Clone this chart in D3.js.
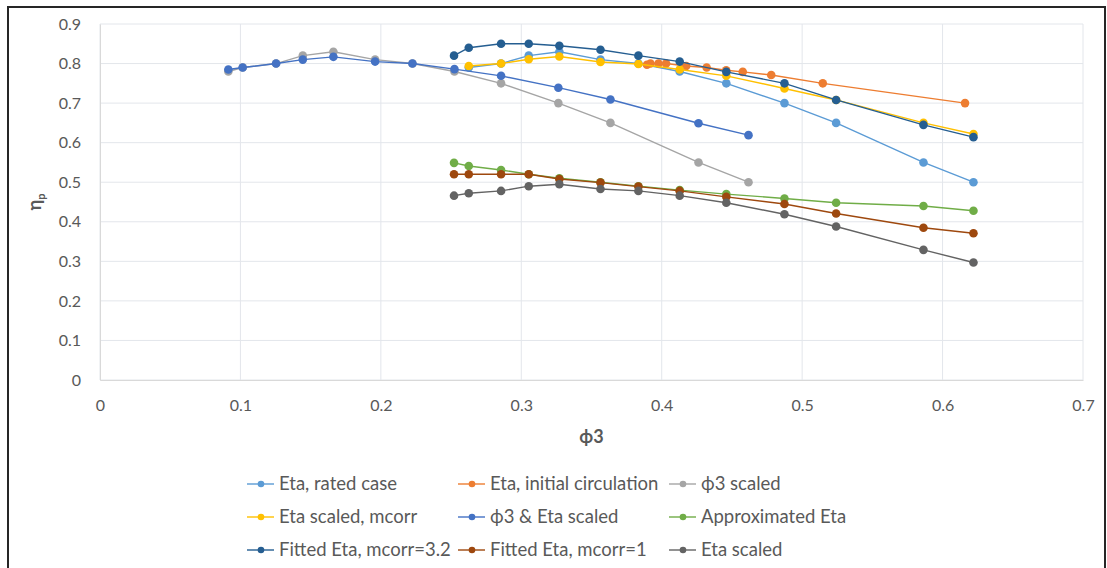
<!DOCTYPE html>
<html>
<head>
<meta charset="utf-8">
<script src="https://cdn.jsdelivr.net/npm/d3@7"></script>
<style>
  body { margin: 0; background: #fff; }
  svg { display: block; font-family: Lato, "Open Sans", sans-serif; }
</style>
</head>
<body>
<svg id="chart" width="1107" height="568"></svg>
<script>
// Efficiency ηp against flow coefficient ϕ3 for several scaling approaches
const xTicks = [0, 0.1, 0.2, 0.3, 0.4, 0.5, 0.6, 0.7];
const yTicks = [0, 0.1, 0.2, 0.3, 0.4, 0.5, 0.6, 0.7, 0.8, 0.9];

const phiRated = [0.2626, 0.2856, 0.3053, 0.3271, 0.3564, 0.3834, 0.4128, 0.446, 0.4874, 0.5242, 0.5864, 0.622];
const etaRated = [0.79, 0.80, 0.82, 0.83, 0.81, 0.80, 0.78, 0.75, 0.70, 0.65, 0.55, 0.50];

const phiInitial = [0.3895, 0.392, 0.3977, 0.4031, 0.4174, 0.432, 0.4459, 0.4577, 0.478, 0.5147, 0.616];
const etaInitial = [0.797, 0.80, 0.80, 0.80, 0.794, 0.79, 0.783, 0.779, 0.771, 0.75, 0.70];

const phiScaledLow = [0.0914, 0.1016, 0.1254, 0.1444, 0.1662, 0.1959, 0.2225, 0.2524, 0.2856, 0.3264, 0.3635, 0.4262, 0.4618];
const etaPhi3Scaled = [0.78, 0.79, 0.80, 0.82, 0.83, 0.81, 0.80, 0.78, 0.75, 0.70, 0.65, 0.55, 0.50];
const etaPhi3EtaScaled = [0.785, 0.79, 0.80, 0.81, 0.817, 0.805, 0.80, 0.786, 0.769, 0.739, 0.709, 0.649, 0.619];

const phiMcorr = [0.2626, 0.2856, 0.3053, 0.3271, 0.3564, 0.3834, 0.4128, 0.446, 0.4874, 0.5242, 0.5864, 0.622];
const etaMcorr = [0.794, 0.80, 0.811, 0.818, 0.804, 0.799, 0.785, 0.769, 0.737, 0.708, 0.65, 0.622];

const phiFull = [0.2521, 0.2626, 0.2856, 0.3053, 0.3271, 0.3564, 0.3834, 0.4128, 0.446, 0.4874, 0.5242, 0.5864, 0.622];
const etaApprox = [0.549, 0.541, 0.531, 0.52, 0.51, 0.50, 0.49, 0.48, 0.47, 0.459, 0.448, 0.44, 0.428];
const etaFitted32 = [0.82, 0.84, 0.85, 0.85, 0.845, 0.835, 0.82, 0.805, 0.779, 0.75, 0.708, 0.645, 0.614];
const etaFitted1 = [0.52, 0.52, 0.52, 0.52, 0.508, 0.499, 0.489, 0.478, 0.463, 0.445, 0.421, 0.385, 0.371];
const etaScaled = [0.466, 0.472, 0.478, 0.49, 0.495, 0.483, 0.478, 0.466, 0.448, 0.419, 0.388, 0.329, 0.297];

const seriesNames = [
  "Eta, rated case", "Eta, initial circulation", "ϕ3 scaled",
  "Eta scaled, mcorr", "ϕ3 & Eta scaled", "Approximated Eta",
  "Fitted Eta, mcorr=3.2", "Fitted Eta, mcorr=1", "Eta scaled"
];
const seriesColors = [
  "#5B9BD5", "#ED7D31", "#A5A5A5",
  "#FFC000", "#4472C4", "#70AD47",
  "#255E91", "#9E480E", "#636363"
];
const seriesX = [phiRated, phiInitial, phiScaledLow, phiMcorr, phiScaledLow, phiFull, phiFull, phiFull, phiFull];
const seriesY = [etaRated, etaInitial, etaPhi3Scaled, etaMcorr, etaPhi3EtaScaled, etaApprox, etaFitted32, etaFitted1, etaScaled];

const series = seriesNames.map((name, i) => ({
  name, color: seriesColors[i],
  points: seriesX[i].map((x, j) => ({ x, y: seriesY[i][j] }))
}));

const svg = d3.select("#chart");

// outer chart frame
svg.append("rect")
  .attr("x", 8).attr("y", 7).attr("width", 1097).attr("height", 575)
  .attr("fill", "#fff").attr("stroke", "#262626").attr("stroke-width", 2);

const x = d3.scaleLinear().domain([0, 0.7]).range([100, 1083]);
const y = d3.scaleLinear().domain([0, 0.9]).range([380, 24]);

const grid = svg.append("g");
grid.selectAll("line.h").data(yTicks).join("line")
  .attr("x1", x(0)).attr("x2", x(0.7))
  .attr("y1", d => y(d)).attr("y2", d => y(d))
  .attr("stroke", "#E3E6EB").attr("stroke-width", 1);
grid.selectAll("line.v").data(xTicks).join("line")
  .attr("y1", y(0)).attr("y2", y(0.9))
  .attr("x1", d => x(d)).attr("x2", d => x(d))
  .attr("stroke", "#E3E6EB").attr("stroke-width", 1);

// axes
const xAxis = d3.axisBottom(x).tickValues(xTicks).tickFormat(d3.format("")).tickSize(0).tickPadding(20);
const yAxis = d3.axisLeft(y).tickValues(yTicks).tickFormat(d3.format("")).tickSize(0).tickPadding(19);

const gx = svg.append("g").attr("transform", `translate(0,${y(0)})`).call(xAxis);
const gy = svg.append("g").attr("transform", `translate(${x(0)},0)`).call(yAxis);
[gx, gy].forEach(g => {
  g.select(".domain").attr("stroke", "#D9D9D9");
  g.selectAll("text").attr("fill", "#595959").attr("font-size", 16)
    .attr("font-family", "Lato, 'Open Sans', sans-serif");
});

// axis titles
svg.append("text")
  .attr("x", x(0.35)).attr("y", 443)
  .attr("text-anchor", "middle")
  .attr("font-size", 18).attr("font-weight", "bold").attr("fill", "#595959")
  .text("ϕ3");

const yTitle = svg.append("text")
  .attr("transform", `translate(41,${y(0.45)}) rotate(-90)`)
  .attr("text-anchor", "middle")
  .attr("font-size", 18).attr("font-weight", "bold").attr("fill", "#595959");
yTitle.append("tspan").text("η");
yTitle.append("tspan").attr("font-size", 11).attr("dy", 4).text("p");

// series lines and markers
const line = d3.line().x(d => x(d.x)).y(d => y(d.y));
const plot = svg.append("g");
series.forEach(s => {
  const g = plot.append("g");
  g.append("path")
    .attr("d", line(s.points))
    .attr("fill", "none").attr("stroke", s.color).attr("stroke-width", 1.4);
  g.selectAll("circle").data(s.points).join("circle")
    .attr("cx", d => x(d.x)).attr("cy", d => y(d.y)).attr("r", 4.3)
    .attr("fill", s.color);
});

// legend, three columns
const colX = [247, 458, 669];
const rowY = [484, 517, 550];
const legend = svg.append("g");
series.forEach((s, i) => {
  const lx = colX[i % 3], ly = rowY[Math.floor(i / 3)];
  const g = legend.append("g").attr("transform", `translate(${lx},${ly})`);
  g.append("line").attr("x1", 0).attr("x2", 27).attr("y1", 0).attr("y2", 0)
    .attr("stroke", s.color).attr("stroke-width", 1.4);
  g.append("circle").attr("cx", 14).attr("cy", 0).attr("r", 3.3).attr("fill", s.color);
  g.append("text").attr("x", 32).attr("y", 0).attr("dy", "0.35em")
    .attr("font-size", 18.5).attr("fill", "#595959").text(s.name);
});
</script>
</body>
</html>
